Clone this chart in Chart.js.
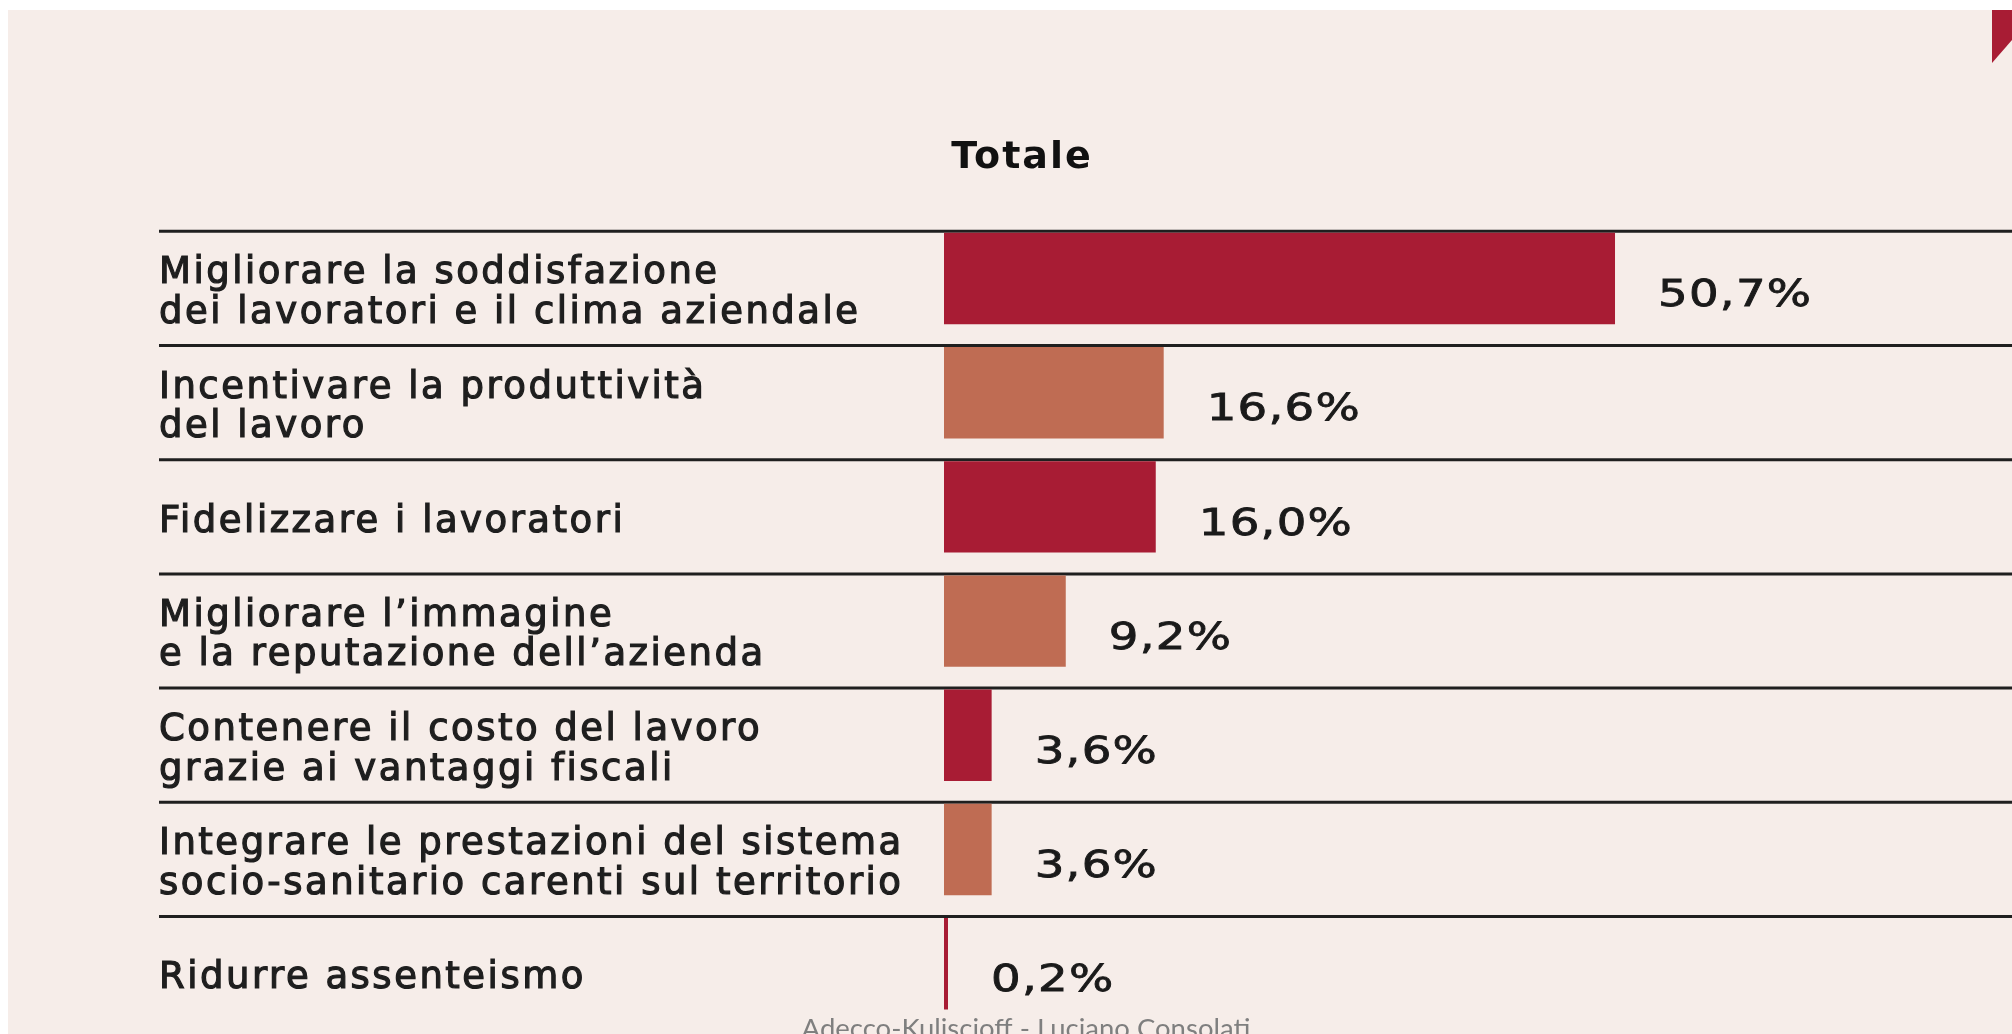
<!DOCTYPE html>
<html>
<head>
<meta charset="utf-8">
<script src="https://cdn.jsdelivr.net/npm/chart.js@4"></script>
<style>
  body { margin: 0; background: #ffffff; }
  #wrap { position: absolute; left: 8px; top: 10px; width: 2004px; height: 1024px; background: #f6ede9; overflow: hidden; }
</style>
</head>
<body>
<div id="wrap"><canvas id="chart" width="2004" height="1024"></canvas></div>
<script>
// Obiettivi del welfare aziendale - Totale
const categories = [
    ["Migliorare la soddisfazione", "dei lavoratori e il clima aziendale"],
    ["Incentivare la produttività", "del lavoro"],
    "Fidelizzare i lavoratori",
    ["Migliorare l\u2019immagine", "e la reputazione dell\u2019azienda"],
    ["Contenere il costo del lavoro", "grazie ai vantaggi fiscali"],
    ["Integrare le prestazioni del sistema", "socio-sanitario carenti sul territorio"],
    "Ridurre assenteismo"
];
const values = [50.7, 16.6, 16.0, 9.2, 3.6, 3.6, 0.2];
const chartTitle = "Totale";
const sourceText = "Adecco-Kuliscioff - Luciano Consolati";

const RED = "#a81c34";
const SALMON = "#bf6c53";

function fmt(v) {
    return v.toFixed(1).replace(".", ",") + "%";
}

// draws separators, title, value labels, corner mark and source
const decorPlugin = {
    id: "decor",
    beforeDraw(chart) {
        chart.ctx.letterSpacing = "2.5px"; // tick labels are spaced out
    },
    beforeDatasetsDraw(chart) {
        const ctx = chart.ctx;
        const meta = chart.getDatasetMeta(0);
        ctx.save();
        ctx.letterSpacing = "0px";
        ctx.strokeStyle = "#1f1f1f";
        ctx.lineWidth = 3;
        meta.data.forEach(bar => {
            const y = bar.y - bar.height / 2 - 1.5;
            ctx.beginPath();
            ctx.moveTo(151, y);
            ctx.lineTo(chart.width, y);
            ctx.stroke();
        });
        ctx.restore();
    },
    afterDatasetsDraw(chart) {
        const ctx = chart.ctx;
        const meta = chart.getDatasetMeta(0);
        ctx.save();
        ctx.fillStyle = "#1a1a1a";
        ctx.strokeStyle = "#1a1a1a";
        ctx.lineWidth = 0.8;
        ctx.font = "37px 'DejaVu Sans'";
        ctx.textBaseline = "middle";
        ctx.textAlign = "left";
        ctx.letterSpacing = "1px";
        meta.data.forEach((bar, i) => {
            ctx.save();
            ctx.translate(bar.x + 43, bar.y + 18);
            ctx.scale(1.26, 1);
            ctx.fillText(fmt(values[i]), 0, 0);
            ctx.strokeText(fmt(values[i]), 0, 0);
            ctx.restore();
        });

        // title
        ctx.font = "bold 38px 'DejaVu Sans'";
        ctx.textAlign = "center";
        ctx.textBaseline = "alphabetic";
        ctx.letterSpacing = "2px";
        ctx.fillStyle = "#111111";
        ctx.fillText(chartTitle, 1014, 158);

        // source line at the bottom (cut by the edge)
        ctx.font = "27.5px Lato";
        ctx.letterSpacing = "0px";
        ctx.fillStyle = "#7f7f7f";
        ctx.fillText(sourceText, 1018, 1028);

        // red corner mark
        ctx.fillStyle = RED;
        ctx.beginPath();
        ctx.moveTo(1984, 0);
        ctx.lineTo(chart.width, 0);
        ctx.lineTo(chart.width, 30);
        ctx.lineTo(1984, 53);
        ctx.closePath();
        ctx.fill();
        ctx.restore();
    },
    afterDraw(chart) {
        chart.ctx.letterSpacing = "0px";
    }
};

new Chart(document.getElementById("chart"), {
    type: "bar",
    data: {
        labels: categories,
        datasets: [{
            data: values,
            backgroundColor: values.map((v, i) => i % 2 === 0 ? RED : SALMON),
            borderWidth: 0,
            categoryPercentage: 1,
            barPercentage: 0.8,
            minBarLength: 4
        }]
    },
    options: {
        indexAxis: "y",
        responsive: false,
        animation: false,
        layout: { padding: { left: 151, top: 211.4, right: 9.2, bottom: 13.2 } },
        plugins: {
            legend: { display: false },
            title: { display: false },
            tooltip: { enabled: false }
        },
        scales: {
            x: { display: false, min: 0, max: 80 },
            y: {
                grid: { display: false },
                border: { display: false },
                afterFit(axis) {
                    axis.width = 785;
                    axis.paddingTop = 0;
                    axis.paddingBottom = 0;
                },
                ticks: {
                    autoSkip: false,
                    crossAlign: "far",
                    labelOffset: 15,
                    padding: 0,
                    color: "#1e1e1e",
                    textStrokeColor: "#1e1e1e",
                    textStrokeWidth: 1.2,
                    font: { family: "'DejaVu Sans'", size: 37, lineHeight: 1.06 }
                }
            }
        }
    },
    plugins: [decorPlugin]
});
</script>
</body>
</html>
